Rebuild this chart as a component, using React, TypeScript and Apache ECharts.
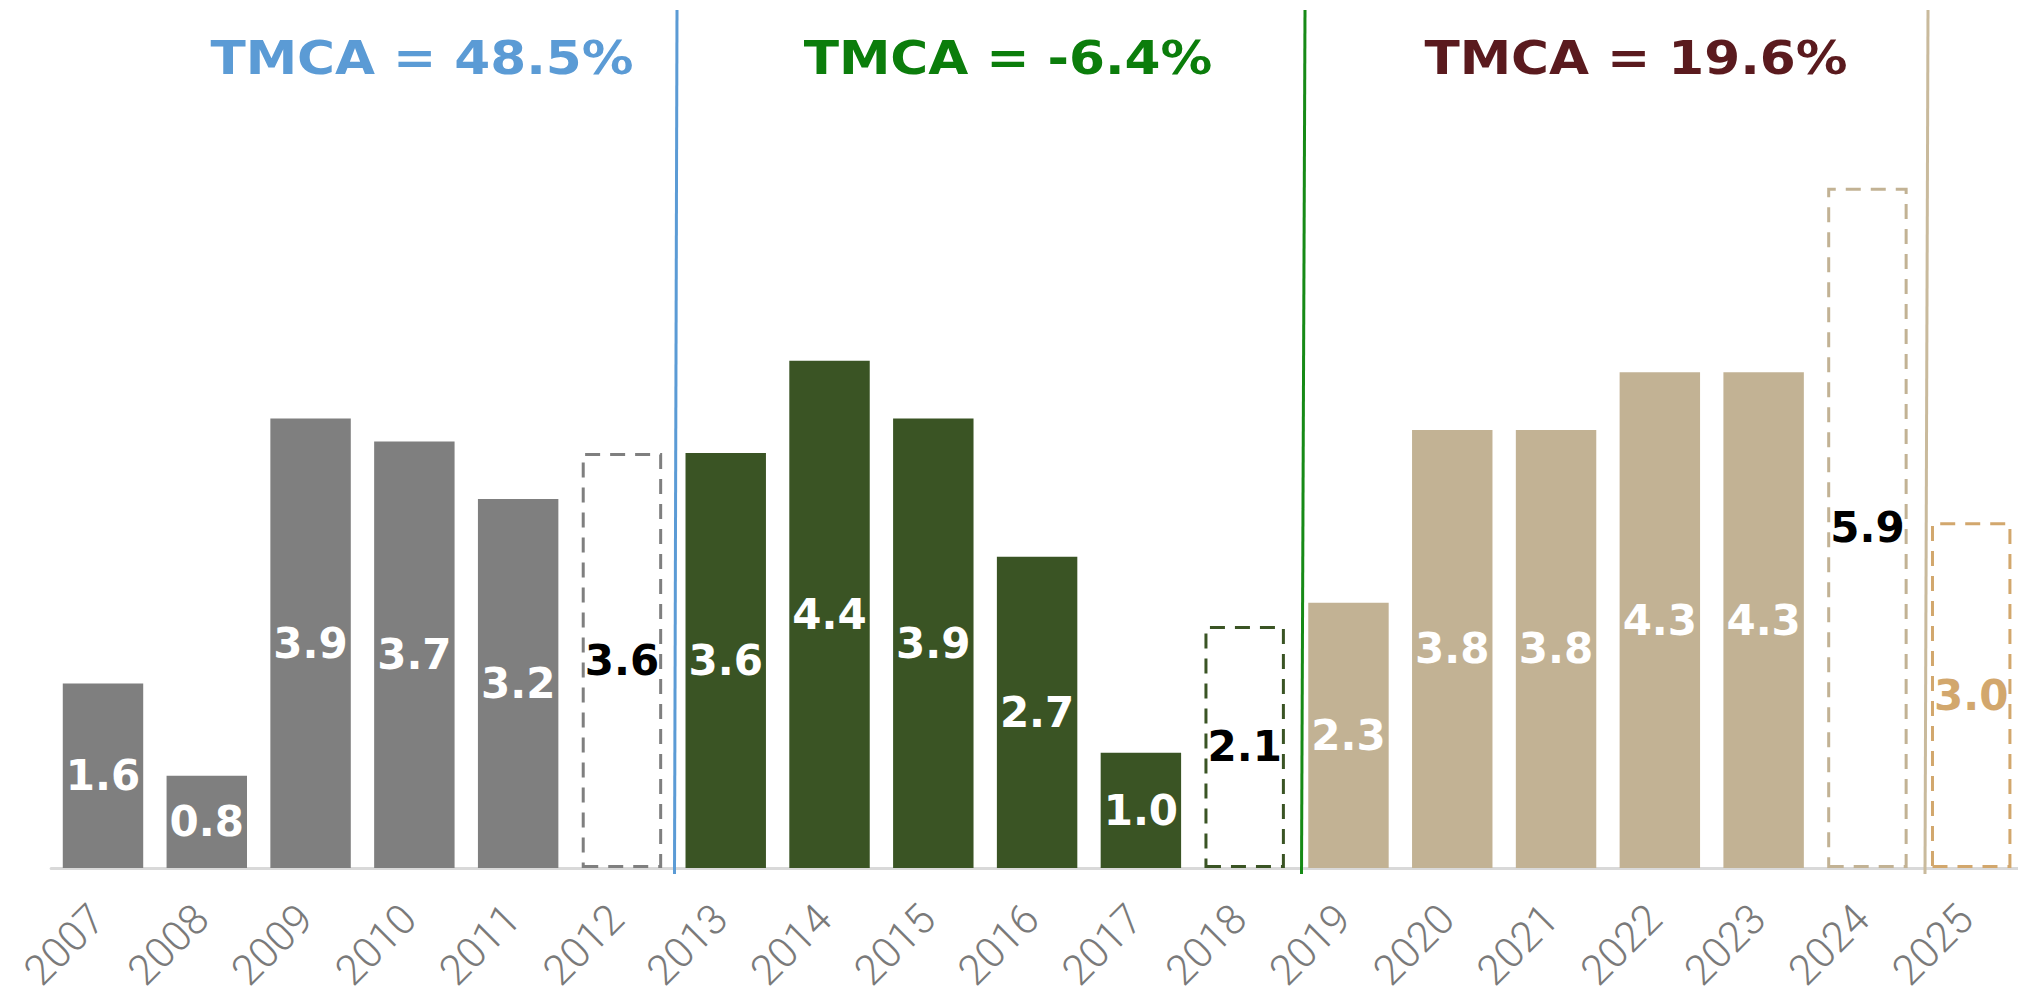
import { useEffect, useRef } from "react";
import * as echarts from "echarts";

// ---- data ----
const years = [
  "2007", "2008", "2009", "2010", "2011", "2012", "2013", "2014", "2015", "2016",
  "2017", "2018", "2019", "2020", "2021", "2022", "2023", "2024", "2025",
];
const values = [
  1.6, 0.8, 3.9, 3.7, 3.2, 3.6, 3.6, 4.4, 3.9, 2.7, 1.0, 2.1, 2.3, 3.8, 3.8, 4.3, 4.3, 5.9, 3.0,
];
// projected / estimated years (drawn as dashed outlines)
const projected = [
  false, false, false, false, false, true,
  false, false, false, false, false, true,
  false, false, false, false, false, true,
  true,
];
// period each year belongs to
const periodOf = [0, 0, 0, 0, 0, 0, 1, 1, 1, 1, 1, 1, 2, 2, 2, 2, 2, 2, 3];
const periodTitles = ["TMCA = 48.5%", "TMCA = -6.4%", "TMCA = 19.6%"];

// ---- styles ----
const barColors = ["#7F7F7F", "#3A5424", "#C2B294", "#D2A76D"];
const titleColors = ["#5B9BD5", "#0B7D0B", "#5A1A1E"];
const titleX = [422, 1008, 1636];
const sepColors = ["#5B9BD5", "#168A16", "#C9BA9C"];
const sepXTop = [677, 1305, 1928];
const sepXBottom = [674.5, 1301.5, 1925];

const FONT = "'DejaVu Sans', sans-serif";

export default function App() {
  const ref = useRef<HTMLDivElement>(null);

  useEffect(() => {
    if (!ref.current) return;
    const chart = echarts.init(ref.current, undefined, { renderer: "svg" });

    const data = values.map((v, i) => {
      const p = periodOf[i];
      const c = barColors[p];
      if (projected[i]) {
        return {
          value: v,
          itemStyle: {
            color: "#FFFFFF",
            borderColor: c,
            borderWidth: 3,
            borderType: [15, 10],
          },
          label: { color: p === 3 ? c : "#000000" },
        };
      }
      return {
        value: v,
        itemStyle: { color: c },
        label: { color: "#FFFFFF" },
      };
    });

    const graphics: any[] = [];
    periodTitles.forEach((t, k) => {
      graphics.push({
        type: "text",
        x: titleX[k],
        y: 58,
        scaleX: 1.1,
        z: 10,
        style: {
          text: t,
          x: 0,
          y: 0,
          fill: titleColors[k],
          font: `bold 47px ${FONT}`,
          align: "center",
          verticalAlign: "middle",
        },
      });
    });
    sepColors.forEach((c, k) => {
      graphics.push({
        type: "line",
        z: 10,
        shape: { x1: sepXTop[k], y1: 10, x2: sepXBottom[k], y2: 874 },
        style: { stroke: c, lineWidth: 3 },
      });
    });

    chart.setOption({
      animation: false,
      grid: { left: 51.1, top: 61, width: 1972, height: 807, containLabel: false },
      xAxis: {
        type: "category",
        data: years,
        axisLine: { show: true, lineStyle: { color: "#D9D9D9", width: 3 } },
        axisTick: { show: false },
        axisLabel: {
          rotate: 45,
          margin: 38,
          padding: [0, 8, 0, 0],
          color: "#7A7A7A",
          fontSize: 42,
          fontWeight: 300,
          fontFamily: "Roboto, 'DejaVu Sans', sans-serif",
          interval: 0,
        },
      },
      yAxis: {
        type: "value",
        min: 0,
        max: 7,
        show: false,
        splitLine: { show: false },
      },
      series: [
        {
          type: "bar",
          data,
          barWidth: "77.5%",
          label: {
            show: true,
            position: "inside",
            fontFamily: FONT,
            fontWeight: "bold",
            fontSize: 42,
            formatter: (p: any) => Number(p.value).toFixed(1),
          },
        },
      ],
      graphic: graphics,
    });

    return () => chart.dispose();
  }, []);

  return (
    <div
      style={{
        position: "absolute",
        left: 0,
        top: 0,
        width: 2018,
        height: 997,
        overflow: "hidden",
        background: "#fff",
      }}
    >
      <div ref={ref} style={{ width: 2040, height: 997 }} />
    </div>
  );
}
